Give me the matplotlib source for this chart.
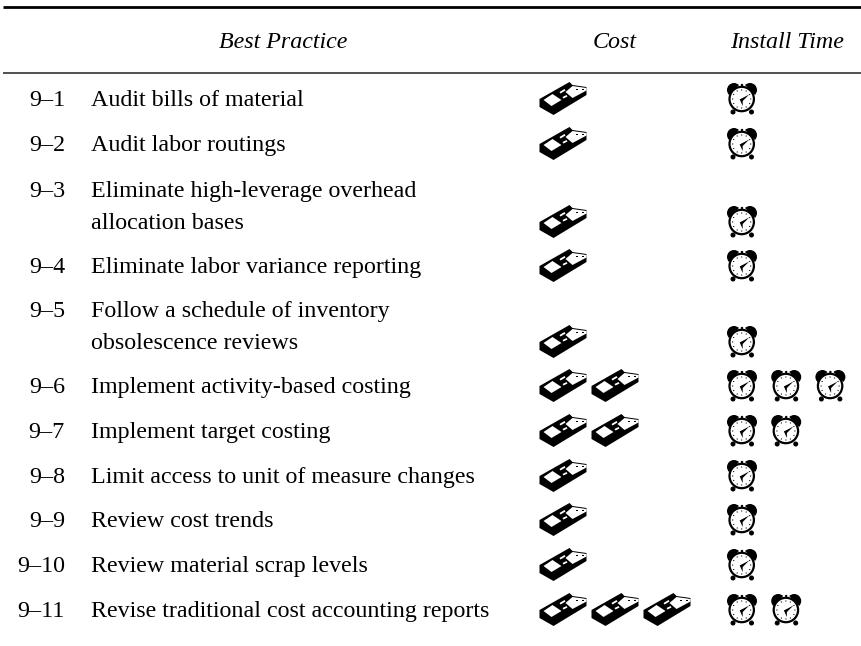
import matplotlib
matplotlib.use('Agg')
import matplotlib.pyplot as plt
from matplotlib.patches import Polygon, Circle, Wedge

codes = ['9–1', '9–2', '9–3', '9–4', '9–5', '9–6', '9–7', '9–8', '9–9', '9–10', '9–11']
practices = ['Audit bills of material', 'Audit labor routings',
             'Eliminate high-leverage overhead\nallocation bases',
             'Eliminate labor variance reporting',
             'Follow a schedule of inventory\nobsolescence reviews',
             'Implement activity-based costing', 'Implement target costing',
             'Limit access to unit of measure changes', 'Review cost trends',
             'Review material scrap levels', 'Revise traditional cost accounting reports']
cost = [1, 1, 1, 1, 1, 2, 2, 1, 1, 1, 3]
install_time = [1, 1, 1, 1, 1, 3, 2, 1, 1, 1, 2]
headers = ['Best Practice', 'Cost', 'Install Time']

# layout, in image pixels
BASELINES = [106, 151, 197, 273, 317, 393, 438, 483, 527, 572, 617]
LINE_GAP = 32
HEADER_X = [219, 593, 730]
FS = 17.3


def money(ax, x, y):
    def poly(pts, color):
        ax.add_patch(Polygon([(x + a, y + b) for a, b in pts], closed=True, fc=color, ec='none'))
    poly([(0, 17), (30, 0), (33, 3), (47, 5), (47, 13), (14, 33), (0, 25)], 'black')
    poly([(4, 18), (13, 12), (22, 18), (12, 24)], 'white')
    poly([(26, 10), (33, 4), (47, 6), (47, 8.5), (33, 16)], 'white')
    # strap with the S on it
    poly([(20, 10), (25, 7), (26, 8.5), (21, 11.5)], 'white')
    poly([(23, 15), (27, 13), (28, 14.5), (24, 16.5)], 'white')
    # flecks on the right note
    for a, b in [(37, 6.5), (43, 7)]:
        poly([(a, b), (a + 2, b), (a + 2, b + 1), (a, b + 1)], 'black')


def clock(ax, x, y):
    cx, cy = x + 14.7, y + 16.5
    ax.add_patch(Wedge((x + 7, y + 7.5), 7, 135, 315, fc='black', ec='none'))
    ax.add_patch(Wedge((x + 23, y + 7.5), 7, 225, 405, fc='black', ec='none'))
    ax.add_patch(Circle((x + 15, y + 2.5), 1.2, fc='black', ec='none'))
    for fx in [6, 24.5]:
        ax.add_patch(Circle((x + fx, y + 29.5), 2.5, fc='black', ec='none'))
    ax.add_patch(Circle((cx, cy), 12.2, fc='white', ec='black', lw=1.6))
    for tx, ty in [(0, -9), (4.5, -8), (8, -4.5), (9, 0), (8, 4.5), (4.5, 8), (0, 9), (-4.5, 8),
                   (-8, 4.5), (-9, 0), (-8, -4.5), (-4.5, -8)]:
        ax.add_patch(Circle((cx + tx, cy + ty), 0.6, fc='black', ec='none'))
    ax.add_patch(Polygon([(cx - 2, cy + 0.5), (cx + 7.5, cy - 4.5), (cx + 1, cy + 2)], closed=True, fc='black', ec='none'))
    ax.add_patch(Polygon([(cx - 2, cy + 0.5), (cx + 1, cy + 7), (cx + 1, cy - 0.5)], closed=True, fc='black', ec='none'))


plt.rcParams['font.family'] = ['Liberation Serif', 'DejaVu Serif']
fig = plt.figure(figsize=(8.62, 6.46), dpi=100)
ax = fig.add_axes([0, 0, 1, 1])
ax.set_xlim(0, 862)
ax.set_ylim(646, 0)
ax.axis('off')

ax.plot([3, 862], [7, 7], color='black', lw=2.0, solid_capstyle='butt')
ax.plot([3, 862], [72.7, 72.7], color='#222222', lw=1.1, solid_capstyle='butt')

for hx, h in zip(HEADER_X, headers):
    ax.text(hx, 48, h, fontsize=FS, style='italic', ha='left', va='baseline')

for i in range(len(codes)):
    base = BASELINES[i]
    ax.text(65, base, codes[i], fontsize=FS, ha='right', va='baseline')
    lines = practices[i].split('\n')
    for k, t in enumerate(lines):
        ax.text(91.5, base + k * LINE_GAP, t, fontsize=FS, ha='left', va='baseline')
    # icons sit on the last text line
    last = base + (len(lines) - 1) * LINE_GAP
    for n in range(cost[i]):
        money(ax, 539.5 + 52 * n, last - 24)
    for n in range(install_time[i]):
        clock(ax, 727 + 44.2 * n, last - 23.5)

fig.savefig('out.png', dpi=100)
